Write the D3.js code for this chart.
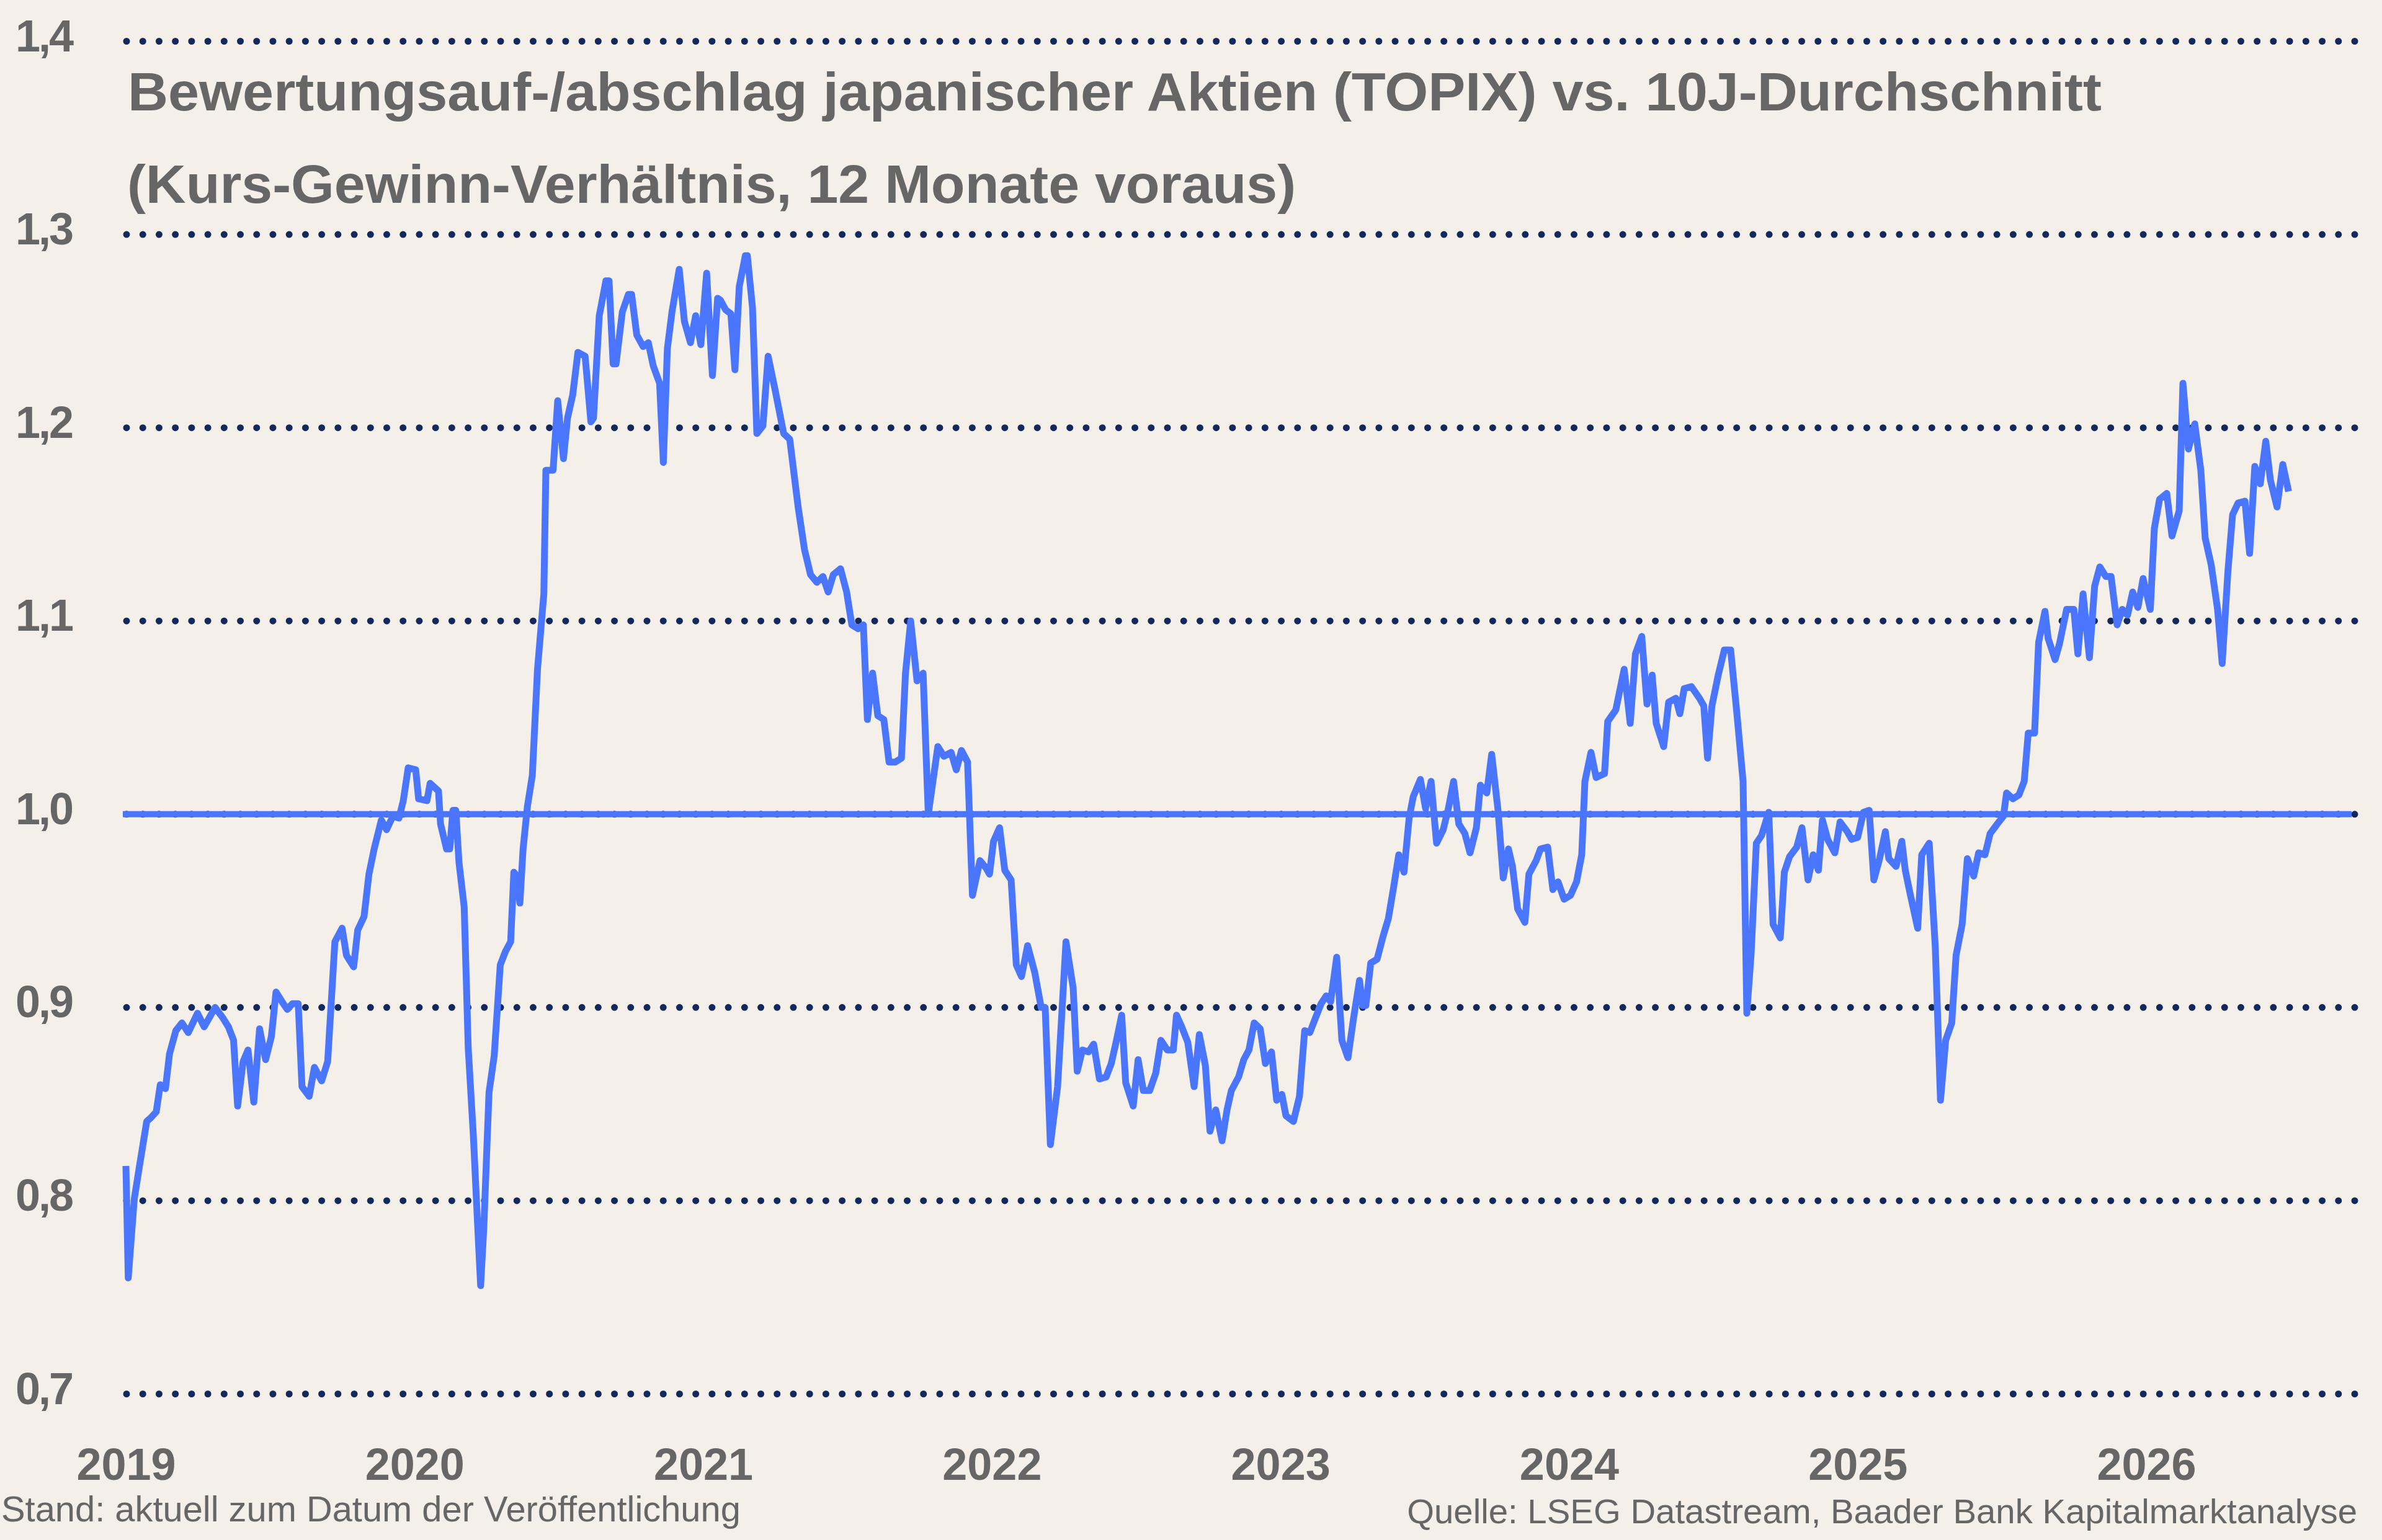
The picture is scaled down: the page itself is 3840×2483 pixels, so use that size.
<!DOCTYPE html>
<html>
<head>
<meta charset="utf-8">
<script src="https://cdn.jsdelivr.net/npm/d3@7"></script>
<style>
  html, body { margin: 0; padding: 0; background: #f5efea; }
  svg { display: block; }
</style>
</head>
<body>
<svg id="chart" width="3840" height="2483"></svg>
<script>
// ---------------- data ----------------
const titleLines = [
  "Bewertungsauf-/abschlag japanischer Aktien (TOPIX) vs. 10J-Durchschnitt",
  "(Kurs-Gewinn-Verhältnis, 12 Monate voraus)"
];
const footnoteLeft = "Stand: aktuell zum Datum der Veröffentlichung";
const footnoteRight = "Quelle: LSEG Datastream, Baader Bank Kapitalmarktanalyse";

const yTicks = [0.7, 0.8, 0.9, 1.0, 1.1, 1.2, 1.3, 1.4];
const yTickLabels = ["0,7", "0,8", "0,9", "1,0", "1,1", "1,2", "1,3", "1,4"];
const xTicks = [2019, 2020, 2021, 2022, 2023, 2024, 2025, 2026];
const xTickLabels = ["2019", "2020", "2021", "2022", "2023", "2024", "2025", "2026"];
const referenceValue = 1.0;

// time in decimal years
const dates = [
  2019.000,2019.008,2019.029,2019.047,2019.072,2019.087,2019.105,2019.119,2019.137,2019.151,
  2019.173,2019.194,2019.216,2019.248,2019.271,2019.309,2019.334,2019.355,2019.373,2019.387,
  2019.406,2019.423,2019.443,2019.463,2019.484,2019.504,2019.520,2019.545,2019.559,2019.577,
  2019.597,2019.610,2019.635,2019.653,2019.678,2019.699,2019.724,2019.749,2019.764,2019.789,
  2019.803,2019.825,2019.842,2019.860,2019.885,2019.903,2019.925,2019.946,2019.961,2019.978,
  2020.004,2020.014,2020.043,2020.054,2020.083,2020.090,2020.111,2020.122,2020.133,2020.143,
  2020.154,2020.172,2020.186,2020.204,2020.219,2020.229,2020.240,2020.258,2020.276,2020.297,
  2020.315,2020.333,2020.344,2020.355,2020.365,2020.376,2020.391,2020.408,2020.426,2020.448,
  2020.455,2020.480,2020.496,2020.516,2020.530,2020.548,2020.566,2020.591,2020.611,2020.620,
  2020.640,2020.663,2020.674,2020.688,2020.698,2020.720,2020.741,2020.752,2020.770,2020.792,
  2020.810,2020.827,2020.849,2020.862,2020.876,2020.892,2020.917,2020.935,2020.956,2020.974,
  2020.992,2021.012,2021.032,2021.050,2021.060,2021.078,2021.096,2021.110,2021.125,2021.146,
  2021.153,2021.171,2021.186,2021.207,2021.225,2021.250,2021.279,2021.300,2021.329,2021.351,
  2021.372,2021.394,2021.415,2021.433,2021.451,2021.476,2021.497,2021.515,2021.537,2021.555,
  2021.569,2021.587,2021.605,2021.626,2021.644,2021.666,2021.687,2021.701,2021.719,2021.741,
  2021.762,2021.780,2021.813,2021.834,2021.859,2021.877,2021.895,2021.916,2021.933,2021.959,
  2021.981,2021.992,2022.006,2022.027,2022.045,2022.067,2022.085,2022.103,2022.124,2022.149,
  2022.171,2022.185,2022.203,2022.228,2022.257,2022.282,2022.296,2022.314,2022.335,2022.353,
  2022.373,2022.396,2022.414,2022.432,2022.450,2022.464,2022.490,2022.507,2022.525,2022.547,
  2022.568,2022.586,2022.608,2022.629,2022.640,2022.658,2022.679,2022.701,2022.719,2022.740,
  2022.756,2022.776,2022.798,2022.815,2022.830,2022.855,2022.873,2022.891,2022.909,2022.930,
  2022.948,2022.969,2022.987,2023.005,2023.019,2023.045,2023.066,2023.084,2023.102,2023.120,
  2023.141,2023.159,2023.174,2023.195,2023.213,2023.234,2023.253,2023.274,2023.285,2023.296,
  2023.313,2023.335,2023.356,2023.374,2023.392,2023.410,2023.428,2023.446,2023.460,2023.485,
  2023.503,2023.522,2023.541,2023.564,2023.582,2023.600,2023.618,2023.639,2023.657,2023.679,
  2023.693,2023.715,2023.732,2023.754,2023.772,2023.790,2023.804,2023.822,2023.847,2023.861,
  2023.886,2023.901,2023.926,2023.944,2023.962,2023.983,2024.005,2024.026,2024.044,2024.055,
  2024.076,2024.094,2024.123,2024.134,2024.162,2024.191,2024.212,2024.230,2024.252,2024.270,
  2024.288,2024.302,2024.328,2024.345,2024.370,2024.384,2024.399,2024.424,2024.452,2024.467,
  2024.480,2024.495,2024.517,2024.538,2024.560,2024.581,2024.603,2024.616,2024.631,2024.649,
  2024.667,2024.692,2024.707,2024.732,2024.746,2024.764,2024.789,2024.807,2024.828,2024.846,
  2024.864,2024.878,2024.896,2024.921,2024.939,2024.964,2024.979,2025.000,2025.020,2025.040,
  2025.056,2025.076,2025.096,2025.108,2025.133,2025.153,2025.165,2025.183,2025.208,2025.222,
  2025.248,2025.269,2025.287,2025.305,2025.326,2025.341,2025.362,2025.380,2025.402,2025.419,
  2025.441,2025.459,2025.484,2025.505,2025.516,2025.538,2025.559,2025.577,2025.591,2025.613,
  2025.627,2025.649,2025.660,2025.684,2025.699,2025.724,2025.749,2025.763,2025.781,2025.803,
  2025.821,2025.839,2025.860,2025.878,2025.899,2025.917,2025.935,2025.953,2025.971,2025.989,
  2026.014,2026.028,2026.046,2026.071,2026.089,2026.114,2026.127,2026.146,2026.168,2026.189,
  2026.204,2026.225,2026.247,2026.263,2026.283,2026.299,2026.318,2026.342,2026.358,2026.376,
  2026.395,2026.414,2026.430,2026.453,2026.473,2026.493
];

const values = [
  0.818,0.760,0.801,0.818,0.841,0.843,0.846,0.860,0.858,0.876,
  0.888,0.892,0.887,0.897,0.890,0.900,0.895,0.890,0.883,0.849,
  0.872,0.878,0.851,0.889,0.873,0.885,0.908,0.902,0.899,0.902,
  0.902,0.859,0.854,0.869,0.862,0.872,0.934,0.941,0.927,0.921,
  0.940,0.947,0.969,0.982,0.997,0.992,0.999,0.998,1.007,1.024,
  1.023,1.008,1.007,1.016,1.012,0.995,0.982,0.982,1.002,1.002,
  0.975,0.952,0.879,0.833,0.786,0.756,0.786,0.856,0.875,0.922,
  0.929,0.934,0.970,0.968,0.954,0.982,1.004,1.020,1.075,1.114,
  1.178,1.178,1.214,1.184,1.205,1.217,1.239,1.237,1.203,1.205,
  1.258,1.276,1.276,1.233,1.233,1.260,1.269,1.269,1.248,1.242,
  1.244,1.232,1.223,1.182,1.241,1.260,1.282,1.255,1.244,1.258,
  1.243,1.280,1.227,1.267,1.266,1.261,1.259,1.230,1.273,1.289,
  1.289,1.262,1.197,1.201,1.237,1.219,1.197,1.194,1.159,1.137,
  1.124,1.120,1.123,1.115,1.124,1.127,1.115,1.098,1.096,1.098,
  1.049,1.073,1.051,1.049,1.027,1.027,1.029,1.073,1.100,1.069,
  1.073,1.000,1.035,1.030,1.032,1.023,1.033,1.027,0.958,0.976,
  0.972,0.969,0.986,0.993,0.971,0.966,0.922,0.916,0.932,0.918,
  0.900,0.900,0.829,0.859,0.934,0.910,0.867,0.878,0.877,0.881,
  0.863,0.864,0.871,0.883,0.896,0.861,0.849,0.873,0.857,0.857,
  0.866,0.883,0.878,0.878,0.896,0.890,0.882,0.859,0.886,0.870,
  0.836,0.847,0.831,0.847,0.857,0.864,0.873,0.878,0.892,0.889,
  0.871,0.877,0.852,0.855,0.844,0.841,0.854,0.888,0.887,0.894,
  0.902,0.906,0.903,0.926,0.883,0.874,0.894,0.914,0.901,0.901,
  0.923,0.925,0.937,0.946,0.962,0.979,0.970,0.998,1.009,1.018,
  1.003,1.017,0.985,0.992,1.003,1.017,0.995,0.990,0.980,0.993,
  1.015,1.011,1.031,1.002,0.967,0.982,0.973,0.951,0.944,0.969,
  0.976,0.982,0.983,0.961,0.965,0.956,0.958,0.965,0.979,1.017,
  1.032,1.019,1.021,1.048,1.054,1.075,1.047,1.083,1.092,1.057,
  1.072,1.047,1.035,1.058,1.060,1.052,1.065,1.066,1.060,1.056,
  1.029,1.056,1.072,1.085,1.085,1.053,1.017,0.897,0.928,0.985,
  0.989,1.001,0.943,0.936,0.970,0.978,0.983,0.993,0.966,0.979,
  0.971,0.997,0.987,0.980,0.996,0.991,0.987,0.988,1.001,1.002,
  0.966,0.977,0.991,0.977,0.973,0.986,0.971,0.958,0.941,0.979,
  0.985,0.931,0.852,0.883,0.892,0.927,0.943,0.977,0.968,0.980,
  0.979,0.990,0.995,0.999,1.011,1.008,1.010,1.017,1.042,1.042,
  1.089,1.105,1.091,1.080,1.088,1.106,1.106,1.083,1.114,1.081,
  1.118,1.128,1.123,1.123,1.098,1.106,1.103,1.115,1.107,1.122,
  1.106,1.148,1.163,1.166,1.144,1.157,1.223,1.189,1.202,1.178,
  1.143,1.129,1.106,1.078,1.126,1.155,1.161,1.162,1.135,1.180,
  1.171,1.193,1.173,1.159,1.181,1.167
];

// ---------------- styling ----------------
const BG = "#f5efea";
const TEXT = "#666666";
const GRID = "#13295c";
const LINE = "#4a76fd";
const FONT = "'Liberation Sans', Arial, Helvetica, sans-serif";

const svg = d3.select("#chart");
svg.append("rect").attr("width", 3840).attr("height", 2483).attr("fill", BG);

const x = d3.scaleLinear().domain([2019, 2026.72]).range([203, 3795]);
const y = d3.scaleLinear().domain([0.7, 1.4]).range([2247.5, 66.5]);

const gridX0 = 204, gridX1 = 3796;
const nDots = 137;
const dotGap = (gridX1 - gridX0) / nDots;

// dotted gridlines
svg.append("g").selectAll("line")
  .data(yTicks)
  .join("line")
  .attr("x1", gridX0).attr("x2", gridX1 + 0.5)
  .attr("y1", d => y(d)).attr("y2", d => y(d))
  .attr("stroke", GRID)
  .attr("stroke-width", 11)
  .attr("stroke-linecap", "round")
  .attr("stroke-dasharray", `0 ${dotGap}`);

// y tick labels
svg.append("g").selectAll("text")
  .data(yTicks)
  .join("text")
  .attr("x", 25)
  .attr("y", d => y(d) + 16)
  .attr("font-family", FONT)
  .attr("font-weight", 700)
  .attr("font-size", 72)
  .attr("fill", TEXT)
  .attr("letter-spacing", -3)
  .text((d, i) => yTickLabels[i]);

// x axis labels (via d3 axis, restyled)
const xAxis = d3.axisBottom(x)
  .tickValues(xTicks)
  .tickFormat((d, i) => xTickLabels[i])
  .tickSize(0)
  .tickPadding(0);
const gx = svg.append("g").attr("transform", "translate(0,2386)").call(xAxis);
gx.select(".domain").remove();
gx.selectAll("text")
  .attr("dy", 0)
  .attr("y", 0)
  .attr("font-family", FONT)
  .attr("font-weight", 700)
  .attr("font-size", 72)
  .attr("fill", TEXT);

// reference line at 1.0
svg.append("line")
  .attr("x1", 198).attr("x2", 3791)
  .attr("y1", y(referenceValue)).attr("y2", y(referenceValue))
  .attr("stroke", LINE)
  .attr("stroke-width", 10);

// main series
const series = dates.map((d, i) => [d, values[i]]);
const lineGen = d3.line().x(d => x(d[0])).y(d => y(d[1]));
svg.append("path")
  .datum(series)
  .attr("d", lineGen)
  .attr("fill", "none")
  .attr("stroke", LINE)
  .attr("stroke-width", 11)
  .attr("stroke-linejoin", "round")
  .attr("stroke-linecap", "butt");

// title
const titleSpecs = [
  { x: 206, y: 178, len: 3182 },
  { x: 205, y: 327, len: 1884 }
];
titleLines.forEach((t, i) => {
  svg.append("text")
    .attr("x", titleSpecs[i].x)
    .attr("y", titleSpecs[i].y)
    .attr("font-family", FONT)
    .attr("font-weight", 700)
    .attr("font-size", 88)
    .attr("fill", TEXT)
    .attr("textLength", titleSpecs[i].len)
    .attr("lengthAdjust", "spacingAndGlyphs")
    .text(t);
});

// footnotes: fit font size to the measured width so nothing overflows
function fittedText(str, xPos, yPos, anchor, target, baseSize) {
  const t = svg.append("text")
    .attr("x", xPos).attr("y", yPos)
    .attr("text-anchor", anchor)
    .attr("font-family", FONT)
    .attr("font-size", baseSize)
    .attr("fill", TEXT)
    .text(str);
  const w = t.node().getComputedTextLength();
  if (w > target) {
    t.attr("font-size", baseSize * target / w);
  }
  return t;
}
fittedText(footnoteLeft, 2, 2453, "start", 1192, 58);
fittedText(footnoteRight, 3800, 2456, "end", 1532, 58);
</script>
</body>
</html>
